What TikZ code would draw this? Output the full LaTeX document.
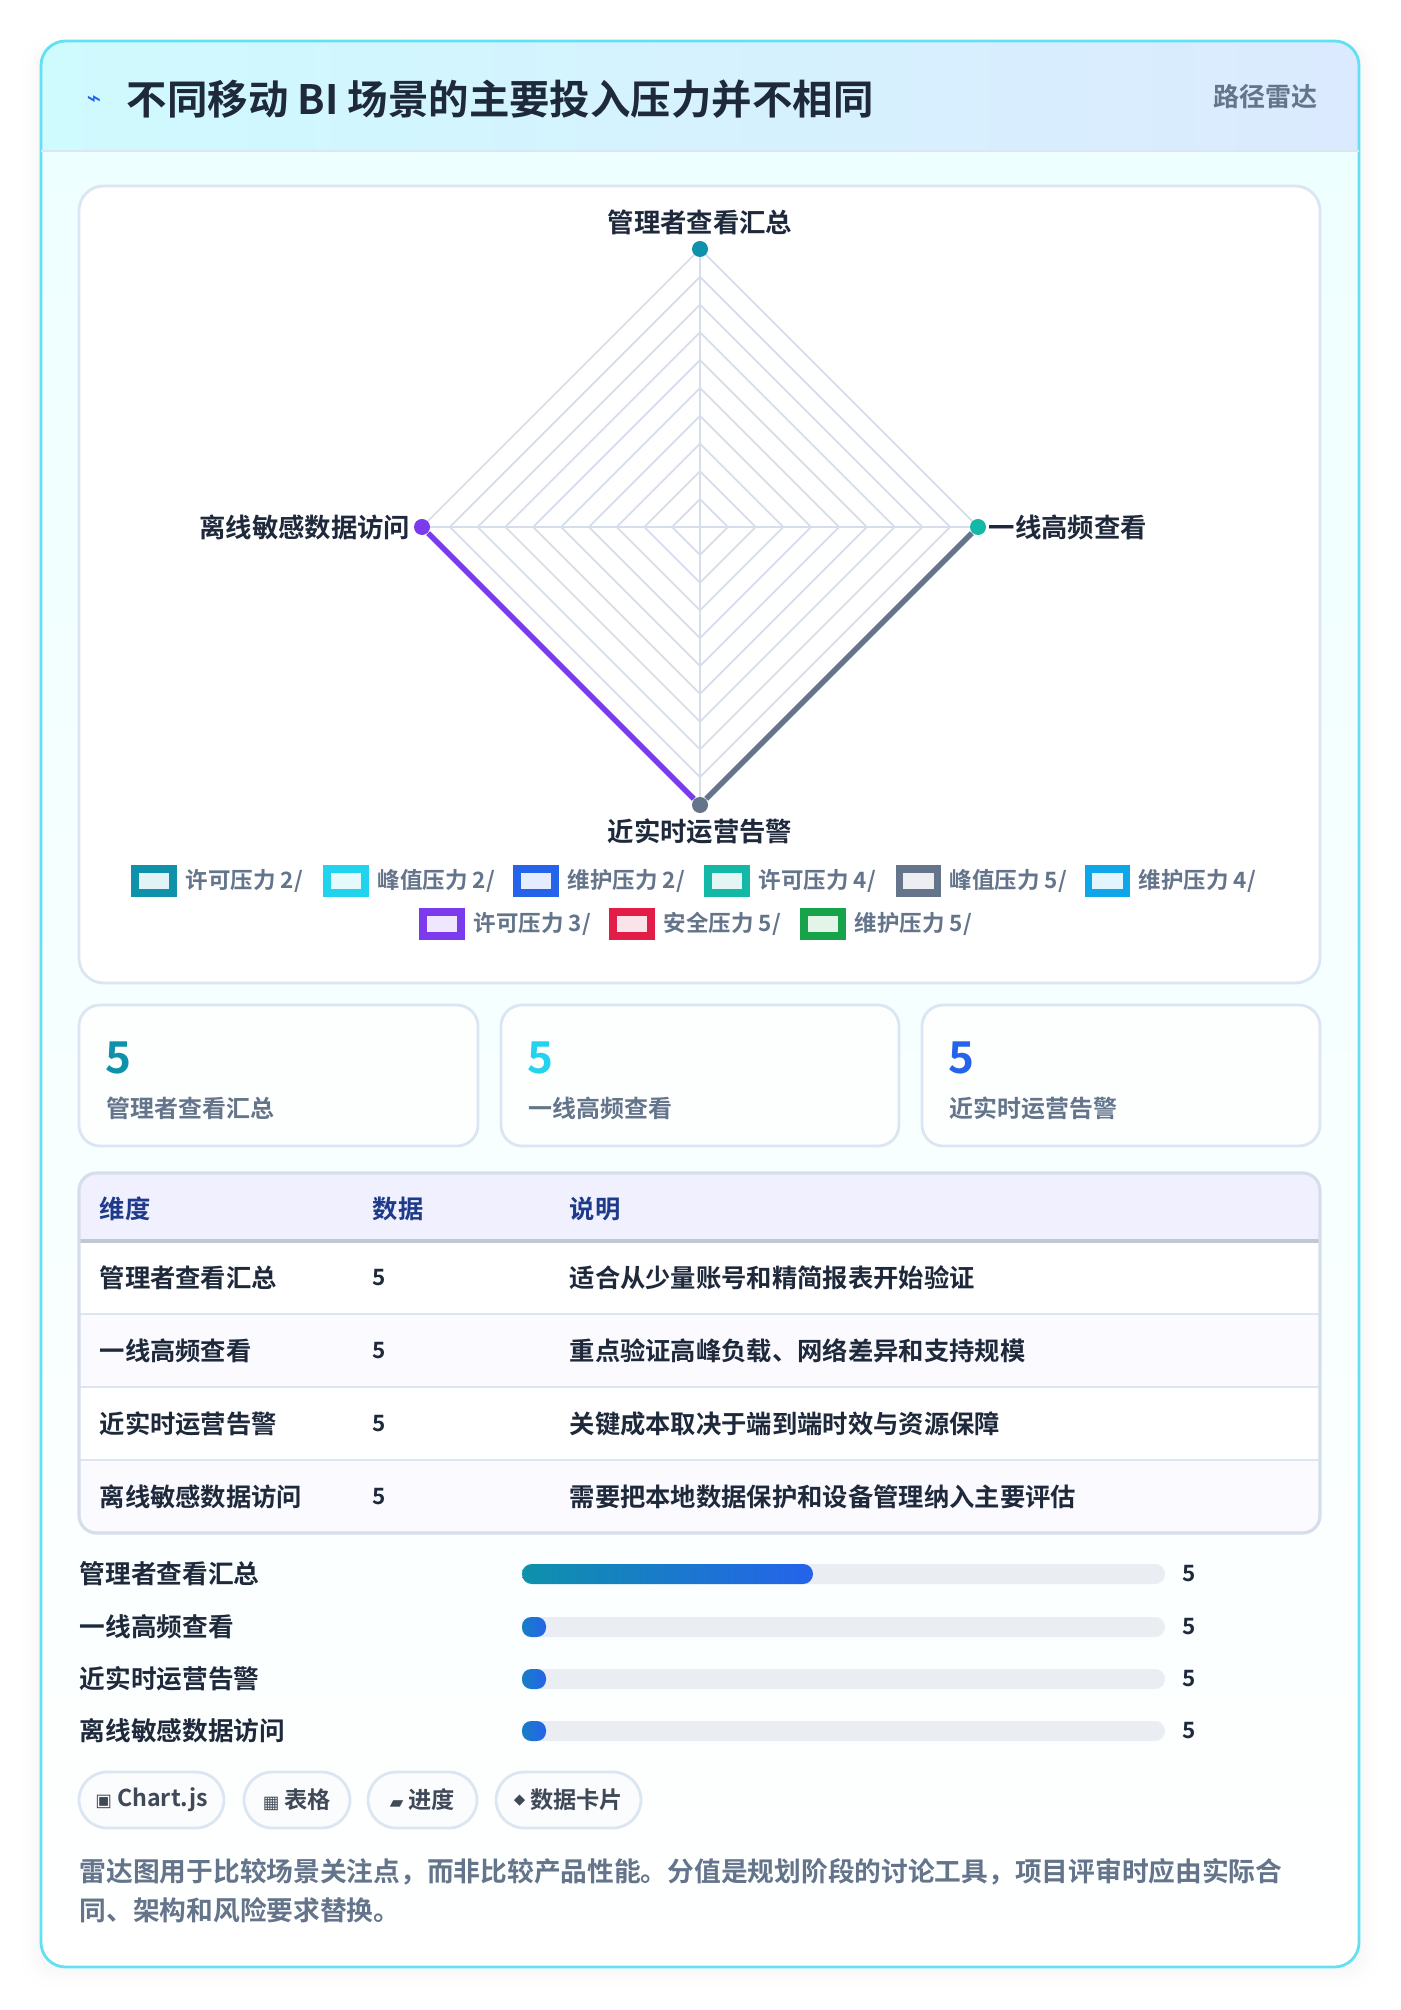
\documentclass[tikz,border=0pt]{standalone}
\usepackage{fontspec}
\setmainfont{Noto Sans CJK SC}[BoldFont={* Bold}]
\newfontfamily\sym{DejaVu Sans}
\usetikzlibrary{calc}
\definecolor{ink}{HTML}{1E293B}
\definecolor{muted}{HTML}{64748B}
\definecolor{gridc}{HTML}{D5DEEA}
\definecolor{bord}{HTML}{DCE6F2}
\definecolor{cA}{HTML}{0E91AB}\definecolor{cB}{HTML}{22D3EE}\definecolor{cC}{HTML}{2563EB}
\definecolor{cD}{HTML}{14B8A6}\definecolor{cE}{HTML}{64748B}\definecolor{cF}{HTML}{0EA5E9}
\definecolor{cG}{HTML}{7C3AED}\definecolor{cH}{HTML}{E11D48}\definecolor{cI}{HTML}{16A34A}
\newcommand{\fs}[1]{\fontsize{#1}{#1}\selectfont}
\newcommand{\symtxt}[1]{{\sym\fs{5}#1}}
\newcommand{\smalldiamond}{\raisebox{0.25ex}{\rotatebox{45}{\rule{2.2pt}{2.2pt}}}}
\begin{document}
\begin{tikzpicture}[x=0.01cm,y=-0.01cm,
  lab/.style={font=\fs{7.5}\bfseries,text=ink},
  leg/.style={font=\fs{6.4}\bfseries,text=muted,anchor=west,inner sep=0},
  cell/.style={font=\fs{7.2}\bfseries,text=ink,anchor=west,inner sep=0},
  chip/.style={draw=bord,fill=white!60!bord!30,rounded corners=8pt,line width=0.8pt},
  dot/.style={circle,inner sep=0,minimum size=0.16cm}]
\useasboundingbox (0,0) rectangle (1400,2010);
\fill[white] (0,0) rectangle (1400,2010);
% shadow
\foreach \i in {1,...,8} \draw[black!\fpeval{0.4*(9-\i)}!white,line width=2pt,rounded corners=7pt] (41-2*\i,41) rectangle (1359+2*\i,1967+2*\i);
% card
\shade[top color=cyan!7,bottom color=white,rounded corners=7pt] (41,41) rectangle (1359,1967);
\begin{scope}
\clip[rounded corners=7pt] (41,41) rectangle (1359,1967);
\shade[left color={rgb,255:red,207;green,250;blue,254},right color={rgb,255:red,219;green,234;blue,254}] (41,41) rectangle (1359,151);
\end{scope}
\draw[cB!70,line width=0.8pt,rounded corners=7pt] (41,41) rectangle (1359,1967);
\draw[bord,line width=0.5pt] (41,151) -- (1359,151);
\node[font=\fs{7}\sym,text=cC] (ic) at (94,101) {⌁};
\node[font=\fs{11.5}\bfseries,text=ink,anchor=west,inner sep=0] (title) at (126,99) {不同移动 BI 场景的主要投入压力并不相同};
\node[font=\fs{7.4}\bfseries,text=muted,anchor=east,inner sep=0] (tag) at (1318,97) {路径雷达};
% chart panel
\draw[bord,fill=white,rounded corners=7pt,line width=0.8pt] (79,186) rectangle (1320,983);
\coordinate (O) at (700,527);
\foreach \k in {1,...,10} {
  \pgfmathsetmacro\r{27.8*\k}
  \draw[gridc,line width=0.5pt] ($(O)+(0,-\r)$) -- ($(O)+(\r,0)$) -- ($(O)+(0,\r)$) -- ($(O)+(-\r,0)$) -- cycle;}
\draw[gridc,line width=0.5pt] ($(O)+(0,-278)$) -- ($(O)+(0,278)$) ($(O)+(-278,0)$) -- ($(O)+(278,0)$);
\node[dot,fill=cA] (pt) at ($(O)+(0,-278)$) {};
\node[dot,fill=cD] (pr) at ($(O)+(278,0)$) {};
\node[dot,fill=cE] (pb) at ($(O)+(0,278)$) {};
\node[dot,fill=cG] (pl) at ($(O)+(-278,0)$) {};
\draw[cG,line width=1.6pt] (pl) -- (pb);
\draw[cE,line width=1.6pt] (pb) -- (pr);
\node[lab] (lt) at (700,222) {管理者查看汇总};
\node[lab,anchor=west,inner sep=0] (lr) at (988,527) {一线高频查看};
\node[lab,anchor=east,inner sep=0] (ll) at (411,527) {离线敏感数据访问};
\node[lab] (lb) at (700,831) {近实时运营告警};
% legend
\foreach \x/\y/\c/\t in {135/881/cA/{许可压力 2/},327/881/cB/{峰值压力 2/},517/881/cC/{维护压力 2/},708/881/cD/{许可压力 4/},899/881/cE/{峰值压力 5/},1088/881/cF/{维护压力 4/},423/924/cG/{许可压力 3/},613/924/cH/{安全压力 5/},804/924/cI/{维护压力 5/}} {
  \draw[\c,fill=\c!12,line width=2pt] (\x,\y-12) rectangle (\x+38,\y+12);
  \node[leg] at (\x+50,\y) {\t};}
% stat cards
\foreach \a/\b/\c/\t in {79/478/cA/管理者查看汇总,501/899/cB/一线高频查看,922/1320/cC/近实时运营告警} {
  \draw[bord,fill=white!70!bord!20,rounded corners=6pt,line width=0.8pt] (\a,1005) rectangle (\b,1146);
  \node[font=\fs{12.5}\bfseries,text=\c,anchor=west,inner sep=0] at (\a+26,1058) {5};
  \node[font=\fs{6.8}\bfseries,text=muted,anchor=west,inner sep=0] at (\a+27,1108) {\t};}
% table
\begin{scope}
\clip[rounded corners=5pt] (79,1173) rectangle (1320,1533);
\fill[white] (79,1173) rectangle (1320,1533);
\fill[blue!6!white] (79,1173) rectangle (1320,1241);
\fill[blue!2!white] (79,1314) rectangle (1320,1387);
\fill[blue!2!white] (79,1460) rectangle (1320,1533);
\end{scope}
\draw[gridc!90!black,line width=1pt] (79,1241) -- (1320,1241);
\foreach \y in {1314,1387,1460} \draw[bord,line width=0.6pt] (79,\y) -- (1320,\y);
\draw[gridc,line width=0.9pt,rounded corners=5pt] (79,1173) rectangle (1320,1533);
\foreach \x/\t in {99/维度,372/数据,569/说明} \node[cell,text={rgb,255:red,30;green,58;blue,138}] at (\x,1209) {\t};
\foreach \y/\a/\c in {1278/管理者查看汇总/适合从少量账号和精简报表开始验证,1351/一线高频查看/重点验证高峰负载、网络差异和支持规模,1424/近实时运营告警/关键成本取决于端到端时效与资源保障,1497/离线敏感数据访问/需要把本地数据保护和设备管理纳入主要评估} {
  \node[cell] at (99,\y) {\a};
  \node[cell,font=\fs{6.4}\bfseries] at (372,\y) {5};
  \node[cell] at (569,\y) {\c};}
% bars
\foreach \y/\t in {1574/管理者查看汇总,1627/一线高频查看,1679/近实时运营告警,1731/离线敏感数据访问} {
  \node[cell,font=\fs{7.3}\bfseries] at (79,\y) {\t};
  \fill[bord!80!gray!40,rounded corners=2.8pt] (522,\y-10) rectangle (1165,\y+10);
  \node[cell,font=\fs{6.4}\bfseries] at (1182,\y) {5};}
\shade[left color=cA,right color=cC,rounded corners=2.8pt] (522,1564) rectangle (813,1584);
\foreach \y in {1627,1679,1731} \shade[left color=cA!60!cC,right color=cC,rounded corners=2.6pt] (522,\y-10) rectangle (546,\y+10);
% chips
\foreach \a/\b/\s/\t in {79/224/\symtxt{▣}/Chart.js,244/350/\symtxt{▦}/表格,368/477/\symtxt{▰}/进度,496/641/\smalldiamond/数据卡片} {
  \draw[chip] (\a,1772) rectangle (\b,1828);
  \node[font=\fs{6.6}\bfseries,text=ink!85] at ({(\a+\b)/2},1800) {\s{} \t};}
\node[font=\fs{7.6}\bfseries,text=muted,anchor=west,inner sep=0] (n1) at (79,1872) {雷达图用于比较场景关注点，而非比较产品性能。分值是规划阶段的讨论工具，项目评审时应由实际合};
\node[font=\fs{7.6}\bfseries,text=muted,anchor=west,inner sep=0] (n2) at (79,1910) {同、架构和风险要求替换。};
\end{tikzpicture}
\end{document}
